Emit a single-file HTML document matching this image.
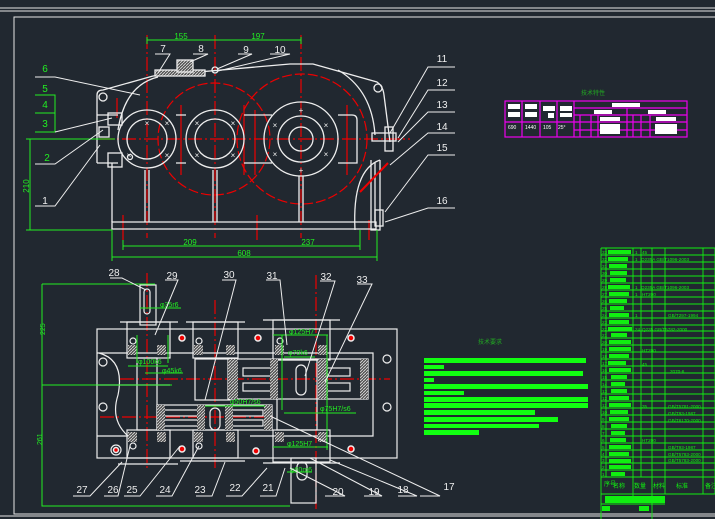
<!DOCTYPE html>
<html><head><meta charset="utf-8"><style>
html,body{margin:0;padding:0;background:#212830;}
svg{display:block}
text{font-family:"Liberation Sans","Noto Sans CJK SC",sans-serif}
</style></head><body>
<svg width="715" height="519" viewBox="0 0 715 519" xmlns="http://www.w3.org/2000/svg">
<rect width="715" height="519" fill="#212830"/>
<defs>
<pattern id="hat" width="3" height="3" patternUnits="userSpaceOnUse"><rect width="3" height="3" fill="#555"/><path d="M0 3L3 0" stroke="#ddd" stroke-width="0.8"/></pattern>
</defs>
<!-- frame -->
<g stroke="#e6e6e6" fill="none" stroke-width="1">
<line x1="0" y1="8" x2="715" y2="8"/><line x1="0" y1="11" x2="715" y2="11"/>
<path d="M715 17H14V514H715"/>
<line x1="0" y1="516" x2="715" y2="516"/>
</g>

<!-- ===== TOP VIEW ===== -->
<g stroke="#e00" fill="none" stroke-width="1.2">
<line x1="147" y1="35" x2="147" y2="238" stroke-dasharray="14 3 2 3"/>
<line x1="215" y1="35" x2="215" y2="238" stroke-dasharray="14 3 2 3"/>
<line x1="301" y1="35" x2="301" y2="238" stroke-dasharray="14 3 2 3"/>
<line x1="100" y1="139" x2="410" y2="139" stroke-dasharray="14 3 2 3"/>
<circle cx="214" cy="139" r="56" stroke-dasharray="10 3"/>
<circle cx="302" cy="139" r="65" stroke-dasharray="10 3"/>
<line x1="117" y1="98" x2="117" y2="118"/><line x1="181" y1="105" x2="181" y2="175"/>
<line x1="244" y1="105" x2="244" y2="175"/><line x1="255" y1="110" x2="255" y2="175"/>
<line x1="347" y1="105" x2="347" y2="175"/><line x1="123" y1="215" x2="123" y2="240"/>
<line x1="257" y1="215" x2="257" y2="240"/><line x1="369" y1="220" x2="369" y2="240"/>
</g>
<g stroke="#eee" fill="none" stroke-width="1.3">
<circle cx="147" cy="139" r="29"/><circle cx="147" cy="139" r="20"/>
<circle cx="215" cy="139" r="29"/><circle cx="215" cy="139" r="20"/>
<circle cx="301" cy="139" r="37"/><circle cx="301" cy="139" r="23"/><circle cx="301" cy="139" r="12"/>
<path d="M97 163V95Q97 90 103 90L153 76"/>
<path d="M97 163H118M176 163H186M244 163H272M338 163H357V120Q357 115 352 115H338M272 115H244M186 115H176M118 115H97"/>
<path d="M153 76L290 64L313 64L377 82Q383 86 384 95L390 142"/>
<path d="M118 130Q125 85 158 77"/>
<path d="M338 70Q372 90 375 135"/>
<path d="M112 222H376V229H112Z"/>
<path d="M112 163V222M375 163V222"/>
<path d="M145 170V222M149 170V222M213 170V222M217 170V222M299 176V222M303 176V222"/>
<circle cx="103" cy="97" r="4"/><circle cx="378" cy="88" r="4"/><circle cx="130" cy="157" r="2.5"/>
<path d="M380 160Q352 170 355 230"/>
<path d="M371 160V230H380V160"/>
<rect x="108" y="113" width="14" height="12"/><rect x="108" y="153" width="14" height="14"/>
<rect x="99" y="127" width="10" height="10"/>
<rect x="372" y="133" width="24" height="8"/><rect x="385" y="127" width="8" height="24"/>
<rect x="375" y="210" width="8" height="16"/>
<rect x="155" y="70" width="50" height="6" fill="url(#hat)"/>
<rect x="177" y="60" width="16" height="12" fill="url(#hat)"/>
<circle cx="215" cy="70" r="3"/>
</g>
<line x1="360" y1="192" x2="388" y2="163" stroke="#e00" stroke-width="2"/>
<g fill="#eee" font-size="8" text-anchor="middle">
<text x="147" y="126">×</text><text x="167" y="126">×</text><text x="129" y="158">×</text><text x="167" y="158">×</text>
<text x="197" y="126">×</text><text x="233" y="126">×</text><text x="197" y="158">×</text><text x="233" y="158">×</text>
<text x="275" y="128">×</text><text x="326" y="128">×</text><text x="275" y="157">×</text><text x="326" y="157">×</text>
<text x="301" y="113">+</text><text x="301" y="173">+</text>
</g>
<!-- top view dims -->
<g stroke="#2e2" fill="none" stroke-width="1">
<line x1="147" y1="40" x2="301" y2="40"/><line x1="147" y1="37" x2="147" y2="44"/><line x1="301" y1="37" x2="301" y2="44"/>
<line x1="26" y1="139" x2="115" y2="139"/><line x1="26" y1="230" x2="112" y2="230"/><line x1="30" y1="139" x2="30" y2="230"/>
<line x1="123" y1="246" x2="360" y2="246"/><line x1="123" y1="240" x2="123" y2="250"/><line x1="360" y1="230" x2="360" y2="250"/>
<line x1="112" y1="257" x2="377" y2="257"/><line x1="112" y1="230" x2="112" y2="261"/><line x1="377" y1="230" x2="377" y2="261"/>
<path d="M35 95H55V132H35M35 113H55"/>
</g>
<g fill="#2e2" font-size="8" text-anchor="middle">
<text x="181" y="39">155</text><text x="258" y="39">197</text>
<text x="190" y="245">209</text><text x="308" y="245">237</text><text x="244" y="256">608</text>
<text x="29" y="186" transform="rotate(-90 29 186)">210</text>
<text x="45" y="72" font-size="10">6</text><text x="45" y="92" font-size="10">5</text>
<text x="45" y="108" font-size="10">4</text><text x="45" y="127" font-size="10">3</text>
<text x="47" y="161" font-size="10">2</text>
</g>
<g stroke="#eee" fill="none" stroke-width="1">
<path d="M35 77H55L140 95"/><path d="M55 132L112 118"/><path d="M35 164H55L103 130"/><path d="M35 206H55L100 145"/>
<path d="M155 54H170L158 73"/><path d="M193 54H208L190 62"/><path d="M238 54H252L217 69"/><path d="M270 54H290L218 71"/>
<path d="M455 67H428L390 133"/><path d="M455 90H428L398 138"/><path d="M455 112H428L398 142"/>
<path d="M455 133H428L390 165"/><path d="M455 155H428L385 212"/><path d="M455 208H428L385 222"/>
</g>
<g fill="#eee" font-size="10" text-anchor="middle">
<text x="45" y="204">1</text><text x="163" y="52">7</text><text x="201" y="52">8</text><text x="246" y="53">9</text><text x="280" y="53">10</text>
<text x="442" y="62">11</text><text x="442" y="86">12</text><text x="442" y="108">13</text><text x="442" y="130">14</text><text x="442" y="151">15</text><text x="442" y="204">16</text>
</g>

<!-- ===== BOTTOM VIEW ===== -->
<g stroke="#e00" fill="none" stroke-width="1.2" stroke-dasharray="14 3 2 3">
<line x1="147" y1="273" x2="147" y2="470"/><line x1="215" y1="300" x2="215" y2="470"/><line x1="316" y1="275" x2="316" y2="512"/>
<line x1="120" y1="379" x2="390" y2="379"/><line x1="100" y1="417" x2="275" y2="417"/>
</g>
<g stroke="#eee" fill="none" stroke-width="1.2">
<rect x="97" y="329" width="300" height="129"/>
<path d="M97 353H373V436H250M97 436H130"/>
<path d="M99 353Q125 360 118 395Q110 420 128 436"/>
<rect x="195" y="359" width="35" height="41"/>
<rect x="228" y="359" width="140" height="40"/>
<rect x="157" y="405" width="115" height="25"/>
<rect x="127" y="322" width="43" height="36"/><rect x="193" y="322" width="45" height="36"/><rect x="273" y="320" width="57" height="40"/>
<rect x="127" y="430" width="43" height="28"/><rect x="193" y="430" width="45" height="28"/><rect x="273" y="430" width="57" height="32"/>
<rect x="140" y="285" width="16" height="40"/><rect x="144" y="289" width="6" height="25" rx="3"/>
<rect x="291" y="458" width="25" height="45"/><rect x="297" y="462" width="10" height="18" rx="5"/>
<rect x="137" y="358" width="20" height="72"/><rect x="277" y="360" width="40" height="70"/>
<rect x="296" y="365" width="10" height="30" rx="5"/>
<rect x="243" y="368" width="30" height="8"/><rect x="243" y="383" width="30" height="8"/><rect x="320" y="368" width="30" height="8"/><rect x="320" y="383" width="30" height="8"/>
<rect x="163" y="410" width="35" height="6"/><rect x="163" y="420" width="35" height="6"/><rect x="228" y="410" width="35" height="6"/><rect x="228" y="420" width="35" height="6"/>
<rect x="210" y="408" width="10" height="22" rx="5"/>
<line x1="96" y1="385" x2="170" y2="385"/>
<circle cx="103" cy="362" r="4"/><circle cx="103" cy="407" r="4"/><circle cx="387" cy="359" r="4"/><circle cx="387" cy="407" r="4"/>
<circle cx="116" cy="450" r="5"/>
<circle cx="133" cy="341" r="3"/><circle cx="199" cy="341" r="3"/><circle cx="280" cy="341" r="3"/><circle cx="133" cy="446" r="3"/><circle cx="199" cy="446" r="3"/>
<path d="M120 322H178M186 322H245M263 320H340M118 464H178M180 461H245M263 463H340"/>
</g>
<g fill="url(#hat)" stroke="none">
<rect x="228" y="359" width="10" height="40"/><rect x="270" y="359" width="8" height="40"/><rect x="318" y="359" width="10" height="40"/><rect x="360" y="359" width="8" height="40"/>
<rect x="157" y="405" width="8" height="25"/><rect x="197" y="405" width="8" height="25"/><rect x="225" y="405" width="8" height="25"/><rect x="264" y="405" width="8" height="25"/>
<rect x="128" y="345" width="9" height="10"/><rect x="157" y="345" width="9" height="10"/><rect x="128" y="432" width="9" height="10"/><rect x="157" y="432" width="9" height="10"/>
<rect x="194" y="345" width="9" height="10"/><rect x="226" y="345" width="9" height="10"/><rect x="194" y="432" width="9" height="10"/><rect x="226" y="432" width="9" height="10"/>
<rect x="275" y="345" width="9" height="10"/><rect x="318" y="345" width="9" height="10"/><rect x="275" y="432" width="9" height="10"/><rect x="318" y="432" width="9" height="10"/>
</g>
<g fill="#e00" stroke="#eee" stroke-width="1.5">
<circle cx="182" cy="338" r="3"/><circle cx="258" cy="338" r="3"/><circle cx="351" cy="338" r="3"/>
<circle cx="182" cy="449" r="3"/><circle cx="256" cy="451" r="3"/><circle cx="351" cy="449" r="3"/><circle cx="116" cy="450" r="2.5"/>
</g>
<g stroke="#2e2" fill="none" stroke-width="1">
<path d="M42 284H155M42 284V506H290M42 385H172"/>
<path d="M140 308H181M128 366H168M145 373H183M205 406H265M273 335H328M284 357H315M284 413H356M273 447H328M287 472H312M137 363V335M168 363V335M282 335V410M327 335V450"/>
</g>
<g fill="#2e2" font-size="7">
<text x="160" y="307">φ35r6</text><text x="138" y="364">φ100k6</text><text x="162" y="373">φ45k6</text>
<text x="230" y="404">φ50H7/s6</text><text x="289" y="334">φ125H7</text><text x="288" y="355">φ70k6</text>
<text x="320" y="411">φ75H7/s6</text><text x="287" y="446">φ125H7</text><text x="290" y="472">φ60m6</text>
<text x="45" y="335" transform="rotate(-90 45 335)">225</text><text x="42" y="445" transform="rotate(-90 42 445)">261</text>
</g>
<g stroke="#eee" fill="none" stroke-width="1">
<path d="M110 278H122L146 290"/><path d="M165 280H178L155 335"/><path d="M222 280H236L205 400"/><path d="M266 280H280L287 345"/><path d="M320 281H335L305 376"/><path d="M357 284H372L325 382"/>
<path d="M73 496H90L122 462"/><path d="M104 496H118L130 446"/><path d="M124 496H140L180 446"/><path d="M156 496H172L199 446"/><path d="M196 496H212L225 462"/>
<path d="M226 496H242L267 468"/><path d="M260 496H276L285 468"/><path d="M325 496H345L290 468"/><path d="M364 496H382L310 458"/><path d="M398 496H417L330 460"/><path d="M420 496H440L270 416"/>
</g>
<g fill="#eee" font-size="10" text-anchor="middle">
<text x="114" y="276">28</text><text x="172" y="279">29</text><text x="229" y="278">30</text><text x="272" y="279">31</text><text x="326" y="280">32</text><text x="362" y="283">33</text>
<text x="82" y="493">27</text><text x="113" y="493">26</text><text x="132" y="493">25</text><text x="165" y="493">24</text><text x="200" y="493">23</text>
<text x="235" y="491">22</text><text x="268" y="491">21</text><text x="338" y="495">20</text><text x="374" y="495">19</text><text x="403" y="493">18</text><text x="449" y="490">17</text>
</g>

<!-- tech characteristics -->
<text x="593" y="95" fill="#2a2" font-size="6" text-anchor="middle">技术特性</text>
<g stroke="#e0e" fill="none" stroke-width="1.2">
<rect x="505" y="101" width="182" height="36"/>
<path d="M522 101V137M540 101V137M557 101V137M574 101V137M505 122H687M574 108H687M574 115H687M627 108V137M580 115V137M591 115V137M598 115V137M633 115V137M641 115V137M650 115V137M574 130H687"/>
</g>
<g fill="#fff">
<rect x="508" y="104" width="12" height="5"/><rect x="508" y="112" width="12" height="5"/>
<rect x="525" y="104" width="12" height="5"/><rect x="525" y="112" width="12" height="5"/>
<rect x="543" y="106" width="12" height="5"/><rect x="548" y="113" width="6" height="5"/>
<rect x="560" y="106" width="12" height="5"/><rect x="560" y="113" width="12" height="4"/>
<rect x="612" y="103" width="28" height="4"/><rect x="594" y="110" width="18" height="4"/><rect x="648" y="110" width="18" height="4"/>
<rect x="600" y="117" width="20" height="4"/><rect x="656" y="117" width="20" height="4"/>
<rect x="600" y="124" width="20" height="10"/><rect x="655" y="124" width="22" height="10"/>
</g>
<g fill="#fff" font-size="5"><text x="508" y="129">690</text><text x="525" y="129">1440</text><text x="543" y="129">105</text><text x="558" y="129">25°</text></g>

<!-- technical requirements -->
<text x="490" y="344" fill="#2a2" font-size="6" text-anchor="middle">技术要求</text>
<g fill="#1f1">
<rect x="424" y="358" width="162" height="5"/><rect x="424" y="365" width="20" height="4"/>
<rect x="424" y="371" width="159" height="5"/><rect x="424" y="378" width="10" height="4"/>
<rect x="424" y="384" width="164" height="5"/><rect x="424" y="391" width="40" height="4"/>
<rect x="424" y="397" width="164" height="5"/><rect x="424" y="403" width="164" height="5"/>
<rect x="424" y="410" width="111" height="5"/><rect x="424" y="417" width="134" height="5"/>
<rect x="424" y="424" width="115" height="4"/><rect x="424" y="430" width="55" height="5"/>
</g>

<!-- parts table -->
<g stroke="#1e1" fill="none" stroke-width="0.9">
<path d="M601 248H715M601 248V519M606 248V477M633 248V500M641 248V477M652 248V519M665 248V494M703 248V494M715 248V494"/>
<path d="M601 255H715M601 262H715M601 269H715M601 276H715M601 283H715M601 290H715M601 297H715M601 304H715M601 311H715M601 318H715M601 325H715M601 331H715M601 338H715M601 345H715M601 352H715M601 359H715M601 366H715M601 373H715M601 380H715M601 387H715M601 394H715M601 401H715M601 408H715M601 415H715M601 422H715M601 429H715M601 436H715M601 443H715M601 450H715M601 457H715M601 463H715M601 470H715M601 477H715M601 494H715M601 504H665"/>
</g>
<g fill="#1e1">
<rect x="608" y="250" width="23" height="4"/><rect x="608" y="257" width="20" height="4"/><rect x="609" y="264" width="18" height="4"/>
<rect x="610" y="271" width="17" height="4"/><rect x="610" y="278" width="16" height="4"/><rect x="608" y="285" width="22" height="4"/>
<rect x="609" y="292" width="20" height="4"/><rect x="609" y="299" width="18" height="4"/><rect x="610" y="306" width="14" height="4"/>
<rect x="609" y="313" width="20" height="4"/><rect x="609" y="320" width="20" height="4"/><rect x="608" y="327" width="24" height="4"/>
<rect x="611" y="333" width="16" height="4"/><rect x="609" y="340" width="22" height="4"/><rect x="609" y="347" width="22" height="4"/>
<rect x="609" y="354" width="20" height="4"/><rect x="608" y="361" width="18" height="4"/><rect x="609" y="368" width="22" height="4"/>
<rect x="611" y="375" width="16" height="4"/><rect x="611" y="382" width="14" height="4"/><rect x="611" y="389" width="16" height="4"/>
<rect x="609" y="396" width="20" height="4"/><rect x="609" y="403" width="22" height="4"/><rect x="610" y="410" width="18" height="4"/>
<rect x="609" y="417" width="20" height="4"/><rect x="611" y="424" width="16" height="4"/><rect x="611" y="431" width="14" height="4"/>
<rect x="610" y="438" width="16" height="4"/><rect x="609" y="445" width="22" height="4"/><rect x="609" y="452" width="20" height="4"/>
<rect x="609" y="459" width="22" height="4"/><rect x="609" y="465" width="22" height="4"/><rect x="611" y="472" width="14" height="4"/>
<rect x="605" y="496" width="60" height="7"/><rect x="602" y="506" width="8" height="5"/><rect x="639" y="506" width="10" height="5"/>
</g>
<g fill="#1e1" font-size="4.6">
<text x="602" y="254">33</text><text x="602" y="261">32</text><text x="602" y="268">31</text><text x="602" y="275">30</text><text x="602" y="282">29</text><text x="602" y="289">28</text><text x="602" y="296">27</text><text x="602" y="303">26</text><text x="602" y="310">25</text><text x="602" y="317">24</text><text x="602" y="324">23</text><text x="602" y="331">22</text><text x="602" y="337">21</text><text x="602" y="344">20</text><text x="602" y="351">19</text><text x="602" y="358">18</text><text x="602" y="365">17</text><text x="602" y="372">16</text><text x="602" y="379">15</text><text x="602" y="386">14</text><text x="602" y="393">13</text><text x="602" y="400">12</text><text x="602" y="407">11</text><text x="602" y="414">10</text><text x="602" y="421">9</text><text x="602" y="428">8</text><text x="602" y="435">7</text><text x="602" y="442">6</text><text x="602" y="449">5</text><text x="602" y="456">4</text><text x="602" y="462">3</text><text x="602" y="469">2</text><text x="602" y="476">1</text>
<text x="635" y="254">1</text><text x="642" y="254">45</text><text x="635" y="261">1</text><text x="641" y="261">Q235A GB/T1096-2003</text>
<text x="635" y="289">1</text><text x="641" y="289">Q235A GB/T1096-2003</text><text x="635" y="296">1</text><text x="642" y="296">HT200</text>
<text x="635" y="317">1</text><text x="668" y="317">GB/T297-1994</text><text x="635" y="331">24</text><text x="642" y="331">Q235 GB/T5782-2000</text>
<text x="642" y="352">HT200</text><text x="642" y="366">45</text><text x="670" y="373">2070-6</text>
<text x="642" y="408">35</text><text x="668" y="408">GB/T5781-2000</text><text x="668" y="415">GB/T93-1987</text><text x="668" y="422">GB/T6170-2000</text>
<text x="642" y="442">HT200</text><text x="668" y="449">GB/T93-1987</text><text x="668" y="456">GB/T5783-2000</text><text x="668" y="462">GB/T5783-2000</text>
<text x="604" y="486" font-size="6">序号</text><text x="613" y="488" font-size="6">名称</text><text x="634" y="488" font-size="6">数量</text><text x="653" y="488" font-size="6">材料</text><text x="676" y="488" font-size="6">标准</text><text x="705" y="488" font-size="6">备注</text>
</g>
</svg>
</body></html>
